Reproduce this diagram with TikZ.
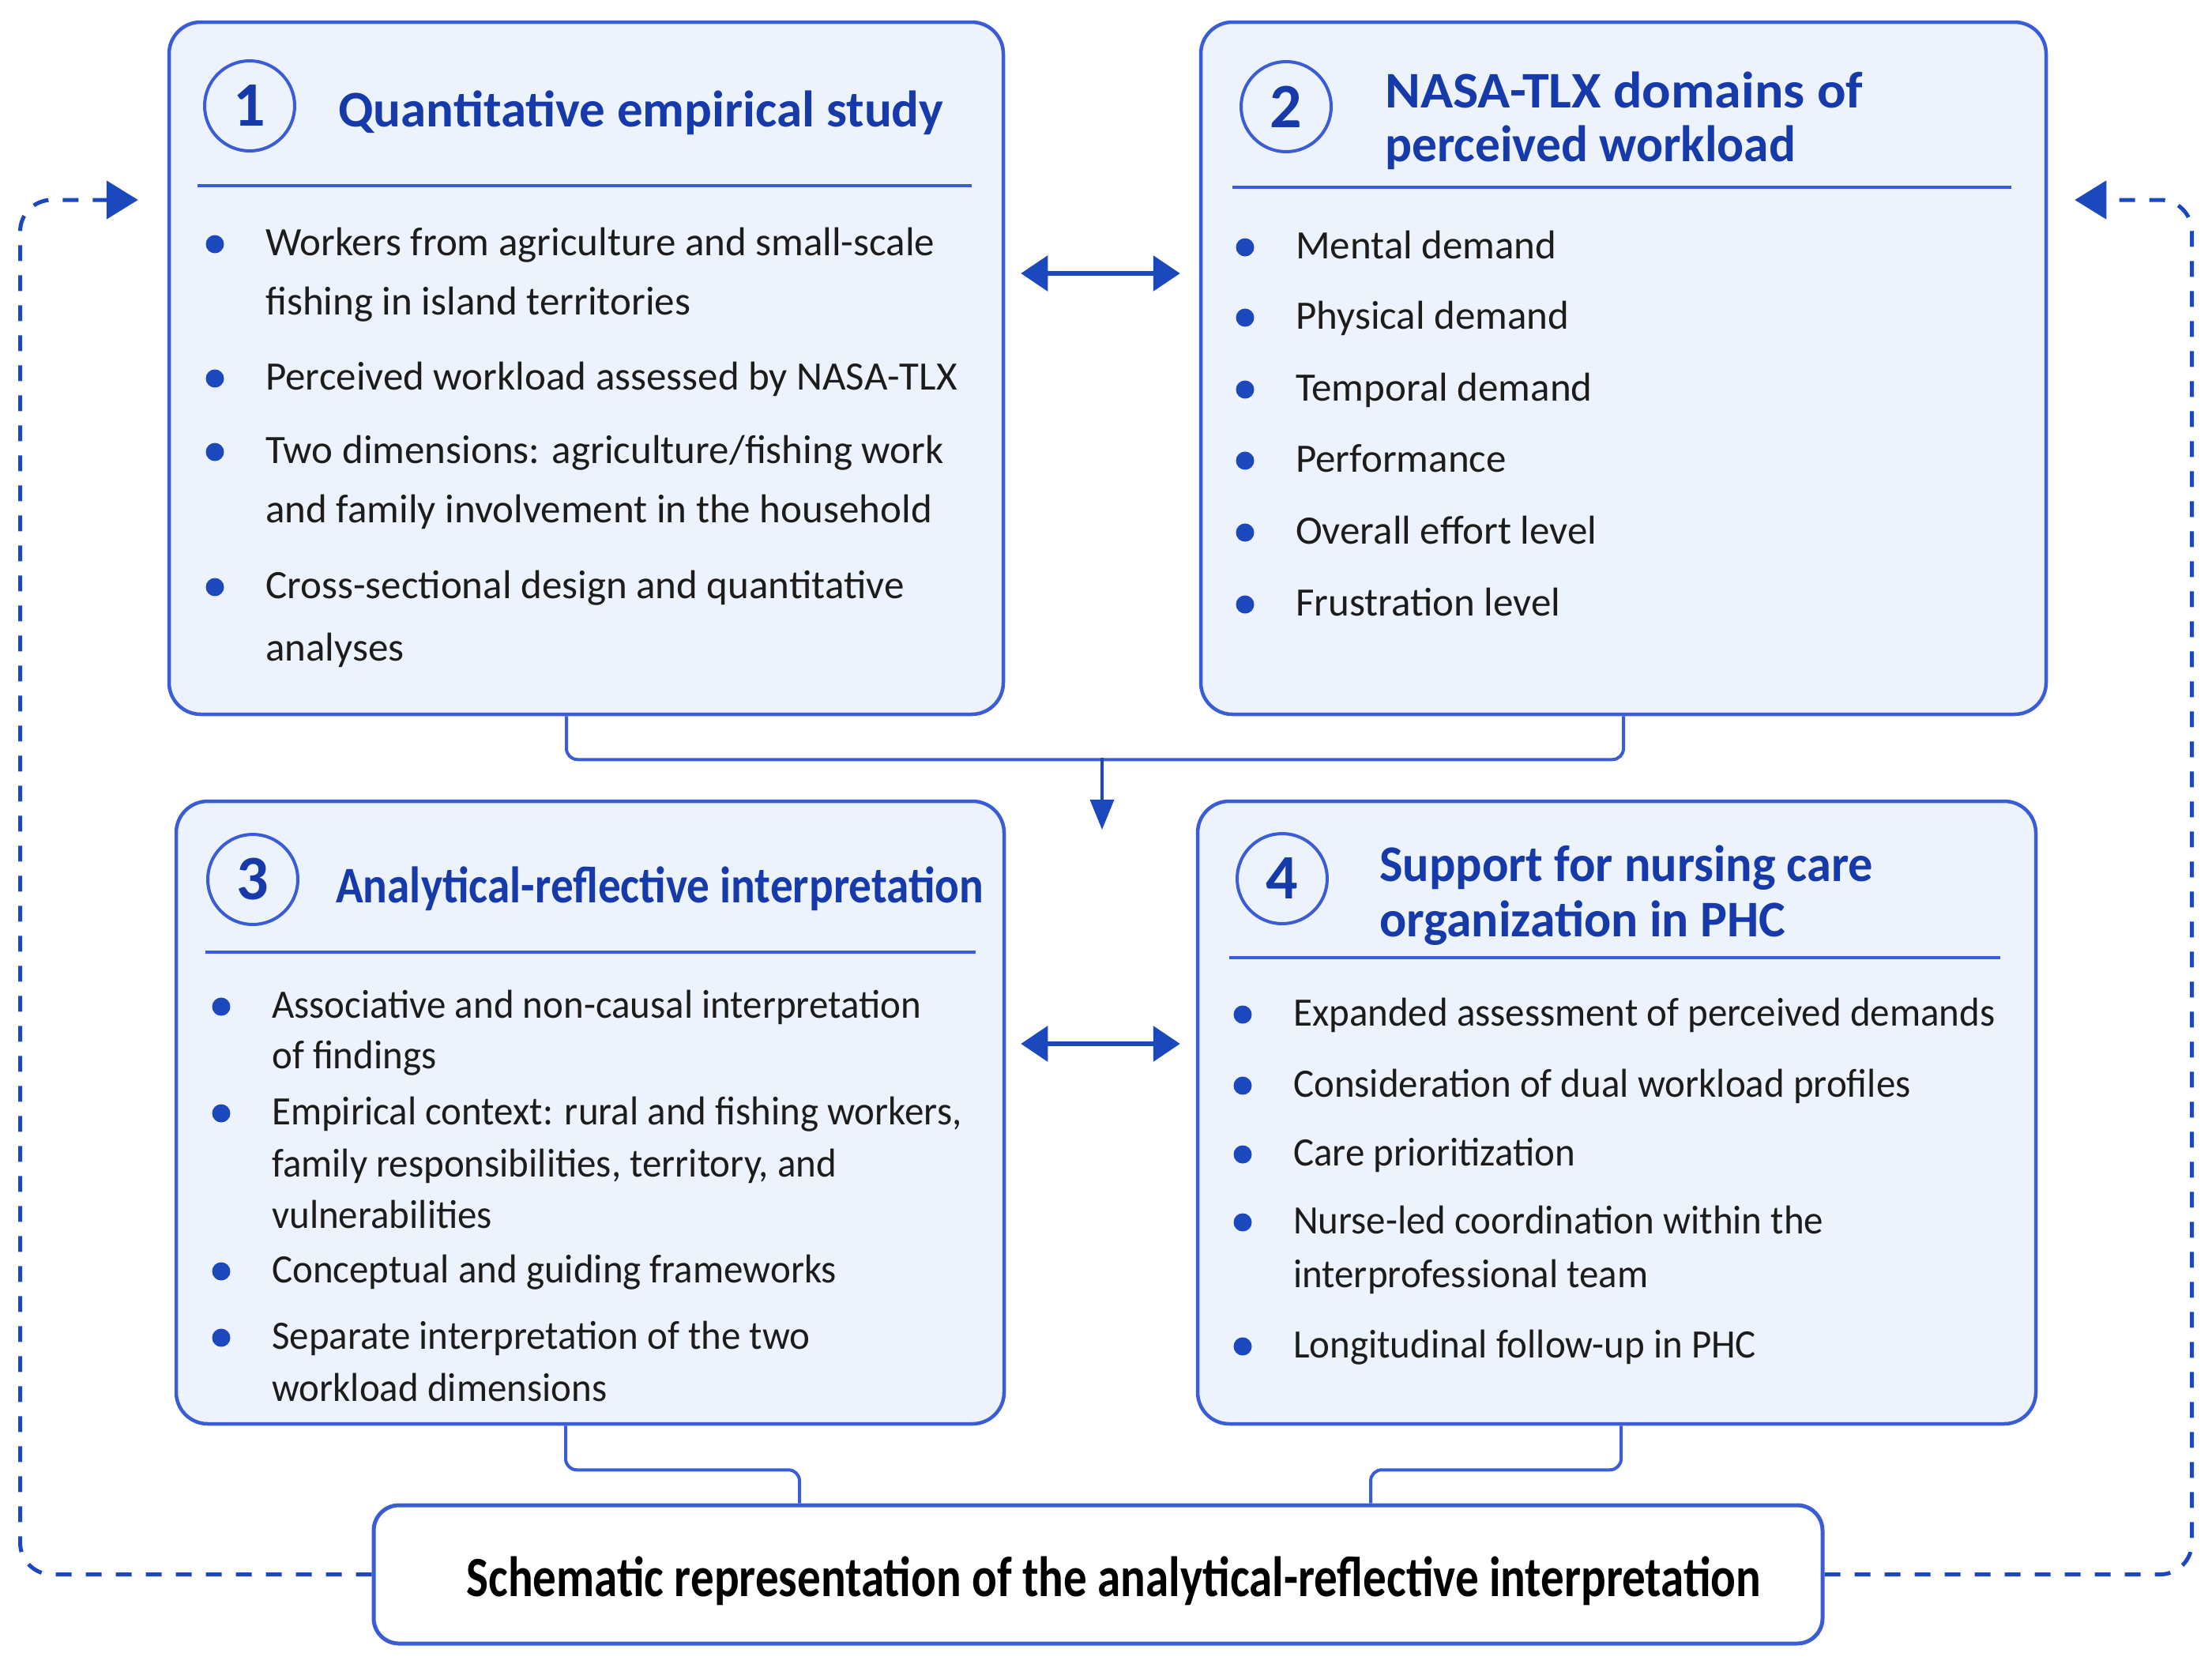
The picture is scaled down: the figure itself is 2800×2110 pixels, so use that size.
\documentclass[tikz,border=0pt]{standalone}
\usepackage{fontspec}
\setmainfont{Carlito}
\newfontfamily\condfont[FakeStretch=0.96]{Carlito}
\usetikzlibrary{arrows.meta,calc}
\definecolor{bordc}{RGB}{58,92,214}
\definecolor{titlec}{RGB}{22,58,170}
\definecolor{bulletc}{RGB}{28,72,190}
\definecolor{arrowc}{RGB}{28,72,190}
\definecolor{textc}{RGB}{28,28,28}
\definecolor{boxfill}{RGB}{237,243,252}
\newcommand\bitem[5][bodytext]{%
  \node[#1] (#2) at (#3,#4) {#5};
  \fill[bulletc] ($(#2.base west)+(-64pt,14pt)$) circle[radius=11.5pt];
}
\newcommand\contline[5][bodytext]{%
  \node[#1] (#2) at (#3,#4) {#5};
}
\newcommand\fitto[2]{\resizebox{#1pt}{\height}{#2}}
\begin{document}
\begin{tikzpicture}[x=1pt,y=-1pt,
  box/.style={draw=bordc, line width=4.5pt, fill=boxfill, rounded corners=40pt, inner sep=0pt},
  titletext/.style={anchor=base west, inner sep=0pt, text=titlec, font=\fontsize{65}{70}\selectfont\bfseries},
  bodytext/.style={anchor=base west, inner sep=0pt, text=textc, font=\fontsize{51}{60}\selectfont},
  bodycond/.style={anchor=base west, inner sep=0pt, text=textc, font=\fontsize{51}{60}\condfont},
  numc/.style={circle, draw=bordc, line width=4pt, minimum size=114pt, inner sep=0pt, text=titlec, font=\fontsize{80}{90}\selectfont\bfseries},
  sepline/.style={draw=bordc, line width=4.5pt},
  conn/.style={draw=bordc, line width=4pt, rounded corners=14pt},
  darrow/.style={draw=arrowc, line width=6pt, {Triangle[length=34pt,width=44pt]}-{Triangle[length=34pt,width=44pt]}},
  dashconn/.style={draw=arrowc, line width=5pt, dash pattern=on 20pt off 18pt, rounded corners=40pt, -{Triangle[length=40pt,width=48pt]}},
  downarrow/.style={draw=arrowc, line width=3.5pt, -{Triangle[length=38pt,width=30pt]}},
  bottombox/.style={draw=bordc, line width=5pt, fill=white, rounded corners=32pt, inner sep=0pt},
  bottext/.style={anchor=base, inner sep=0pt, text=black, font=\fontsize{72}{80}\selectfont\bfseries}
]
\useasboundingbox[fill=white] (0,0) rectangle (2800,2110);

% boxes
\node[box, minimum width=1056pt, minimum height=876pt] (b1) at (742,466) {};
\node[box, minimum width=1070pt, minimum height=876pt] (b2) at (2055,466) {};
\node[box, minimum width=1048pt, minimum height=788pt] (b3) at (747,1408) {};
\node[box, minimum width=1061pt, minimum height=788pt] (b4) at (2046.5,1408) {};
\node[bottombox, minimum width=1834pt, minimum height=175pt] (bot) at (1390,1992.5) {};

% number circles
\node[numc] (n1) at (316,134) {1};
\node[numc] (n2) at (1628,135) {2};
\node[numc] (n3) at (320,1113) {3};
\node[numc] (n4) at (1623,1112) {4};

% titles
\node[titletext] (t1) at (428,160) {Quantitative empirical study};
\node[titletext] (t2a) at (1753,136) {\fitto{605}{NASA-TLX domains of}};
\node[titletext] (t2b) at (1753,204) {\fitto{520}{perceived workload}};
\node[titletext] (t3) at (425,1142) {\fitto{820}{Analytical-reflective interpretation}};
\node[titletext] (t4a) at (1746,1115) {\fitto{625}{Support for nursing care}};
\node[titletext] (t4b) at (1746,1185) {\fitto{514}{organization in PHC}};

% separators
\draw[sepline] (250,235) -- (1230,235);
\draw[sepline] (1560,237) -- (2546,237);
\draw[sepline] (260,1205) -- (1235,1205);
\draw[sepline] (1556,1212) -- (2532,1212);

% box 1 body
\bitem{a1}{336}{323}{Workers from agriculture and small-scale}
\contline{a1b}{336}{398}{fishing in island territories}
\bitem{a2}{336}{493}{Perceived workload assessed by NASA-TLX}
\bitem{a3}{336}{586}{Two dimensions: agriculture/fishing work}
\contline{a3b}{336}{661}{and family involvement in the household}
\bitem{a4}{336}{757}{Cross-sectional design and quantitative}
\contline{a4b}{336}{836}{analyses}

% box 2 body
\bitem{c1}{1640}{327}{Mental demand}
\bitem{c2}{1640}{416}{Physical demand}
\bitem{c3}{1640}{507}{Temporal demand}
\bitem{c4}{1640}{597}{Performance}
\bitem{c5}{1640}{688}{Overall effort level}
\bitem{c6}{1640}{779}{Frustration level}

% box 3 body
\bitem[bodycond]{d1}{344}{1288}{Associative and non-causal interpretation}
\contline[bodycond]{d1b}{344}{1352}{of findings}
\bitem[bodycond]{d2}{344}{1423}{Empirical context: rural and fishing workers,}
\contline[bodycond]{d2b}{344}{1489}{family responsibilities, territory, and}
\contline[bodycond]{d2c}{344}{1554}{vulnerabilities}
\bitem[bodycond]{d3}{344}{1623}{Conceptual and guiding frameworks}
\bitem[bodycond]{d4}{344}{1707}{Separate interpretation of the two}
\contline[bodycond]{d4b}{344}{1773}{workload dimensions}

% box 4 body
\bitem[bodycond]{e1}{1637}{1298}{Expanded assessment of perceived demands}
\bitem[bodycond]{e2}{1637}{1388}{Consideration of dual workload profiles}
\bitem[bodycond]{e3}{1637}{1475}{Care prioritization}
\bitem[bodycond]{e4}{1637}{1561}{Nurse-led coordination within the}
\contline[bodycond]{e4b}{1637}{1629}{interprofessional team}
\bitem[bodycond]{e5}{1637}{1718}{Longitudinal follow-up in PHC}

% bottom text
\node[bottext] (bt) at (1410,2020) {\fitto{1639}{Schematic representation of the analytical-reflective interpretation}};

% connectors
\draw[conn] ([xshift=-25pt]b1.south) -- ++(0,55) -| (b2.south);
\coordinate (junc) at (1395,959);
\coordinate (tip) at (1395,1050);
\draw[downarrow] (junc) -- (tip);
\draw[conn] ([xshift=-31pt]b3.south) -- ++(0,56) -| ([xshift=-378pt]bot.north);
\draw[conn] ([xshift=5.5pt]b4.south) -- ++(0,56) -| ([xshift=345pt]bot.north);

\draw[darrow] ([xshift=20pt,yshift=120pt]b1.east) -- ([xshift=-24pt,yshift=120pt]b2.west);
\draw[darrow] ([xshift=19pt,yshift=87pt]b3.east) -- ([xshift=-20pt,yshift=87pt]b4.west);

\draw[dashconn] (bot.west) -- ++(-445,0) |- ([xshift=-37pt,yshift=213pt]b1.west);
\draw[dashconn] (bot.east) -- ++(465,0) |- ([xshift=34pt,yshift=213pt]b2.east);
\end{tikzpicture}
\end{document}
